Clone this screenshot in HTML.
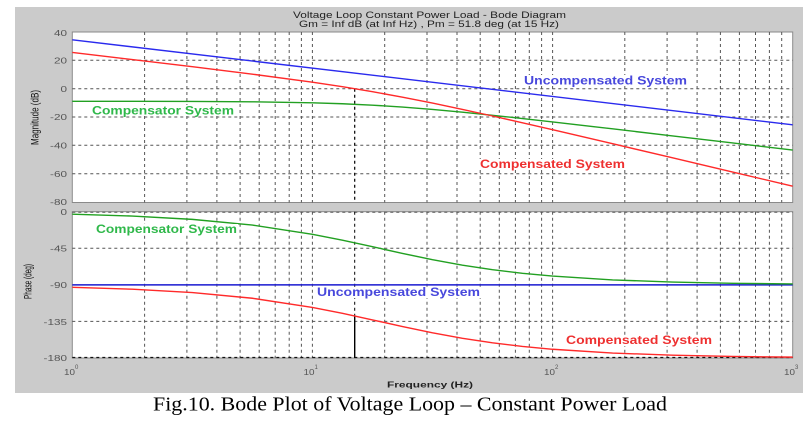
<!DOCTYPE html>
<html><head><meta charset="utf-8"><style>
html,body{margin:0;padding:0;background:#fff;}
svg{display:block;}
</style></head><body>
<svg width="803" height="422" viewBox="0 0 803 422" xmlns="http://www.w3.org/2000/svg" font-family="Liberation Sans, Arial, sans-serif">
<rect x="0" y="0" width="803" height="422" fill="#fff"/>
<rect x="15" y="7" width="788" height="386" fill="#cbcbcb"/>
<!-- axes backgrounds -->
<rect x="72.3" y="32" width="720.4" height="170.5" fill="#fff" stroke="#8a8a8a" stroke-width="1"/>
<rect x="72.3" y="211.7" width="720.4" height="146.3" fill="#fff" stroke="#8a8a8a" stroke-width="1"/>

<!-- vertical grid -->
<g stroke="#555" stroke-width="1" stroke-dasharray="3,3" fill="none">
<path d="M144.6 32V202.5M186.9 32V202.5M216.9 32V202.5M240.1 32V202.5M259.2 32V202.5M275.2 32V202.5M289.2 32V202.5M301.4 32V202.5M312.4 32V202.5M384.7 32V202.5M427 32V202.5M457 32V202.5M480.2 32V202.5M499.3 32V202.5M515.4 32V202.5M529.3 32V202.5M541.6 32V202.5M552.6 32V202.5M624.8 32V202.5M667.1 32V202.5M697.1 32V202.5M720.4 32V202.5M739.4 32V202.5M755.5 32V202.5M769.4 32V202.5M781.7 32V202.5"/>
<path d="M144.6 211.7V358M186.9 211.7V358M216.9 211.7V358M240.1 211.7V358M259.2 211.7V358M275.2 211.7V358M289.2 211.7V358M301.4 211.7V358M312.4 211.7V358M384.7 211.7V358M427 211.7V358M457 211.7V358M480.2 211.7V358M499.3 211.7V358M515.4 211.7V358M529.3 211.7V358M541.6 211.7V358M552.6 211.7V358M624.8 211.7V358M667.1 211.7V358M697.1 211.7V358M720.4 211.7V358M739.4 211.7V358M755.5 211.7V358M769.4 211.7V358M781.7 211.7V358"/>
<!-- horizontal grid -->
<path d="M72.3 60.3H792.7M72.3 88.7H792.7M72.3 117H792.7M72.3 145.3H792.7M72.3 173.7H792.7"/>
<path d="M72.3 212.2H792.7M72.3 248.3H792.7M72.3 321.4H792.7"/>
</g>
<path d="M72.3 357.5H792.7" stroke="#111" stroke-width="1.3" stroke-dasharray="3,3" fill="none"/>

<!-- 15 Hz markers -->
<path d="M354.7 88.7V202.5" stroke="#000" stroke-width="1.2" stroke-dasharray="3,3" fill="none"/>
<path d="M354.7 211.7V315.9" stroke="#000" stroke-width="1" stroke-dasharray="3,3" fill="none"/>
<path d="M354.7 315.9V358" stroke="#000" stroke-width="1.4" fill="none"/>

<!-- magnitude curves -->
<path d="M72.3 39.8L792.7 124.8" stroke="#2a2aee" stroke-width="1.4" fill="none"/>
<path d="M72.3 101.29L132.3 101.33L192.4 101.44L252.4 101.79L312.4 102.78L342.4 103.74L372.5 105.14L402.5 107.05L432.5 109.44L462.5 112.22L492.5 115.29L522.5 118.55L552.6 121.93L612.6 128.86L672.6 135.9L732.7 142.97L792.7 150.05" stroke="#22a022" stroke-width="1.4" fill="none"/>
<path d="M72.3 52.42L132.3 59.54L192.4 66.74L252.4 74.17L312.4 82.24L342.4 86.74L372.5 91.69L402.5 97.14L432.5 103.06L462.5 109.39L492.5 116L522.5 122.8L552.6 129.72L612.6 143.74L672.6 157.86L732.7 172.01L792.7 186.17" stroke="#ff2a2a" stroke-width="1.4" fill="none"/>

<!-- phase curves -->
<path d="M72.3 284.85H792.7" stroke="#1a1ad0" stroke-width="1.5" fill="none"/>
<path d="M72.3 214.15L132.3 216.05L192.4 219.38L252.4 225.1L312.4 234.26L342.4 240.21L372.5 246.73L402.5 253.4L432.5 259.65L462.5 265.13L492.5 269.68L522.5 273.29L552.6 276.11L612.6 279.9L672.6 282.06L732.7 283.28L792.7 283.97" stroke="#22a022" stroke-width="1.4" fill="none"/>
<path d="M72.3 287.3L132.3 289.2L192.4 292.53L252.4 298.25L312.4 307.41L342.4 313.36L372.5 319.88L402.5 326.55L432.5 332.8L462.5 338.28L492.5 342.83L522.5 346.44L552.6 349.26L612.6 353.05L672.6 355.21L732.7 356.43L792.7 357.12" stroke="#ff2a2a" stroke-width="1.4" fill="none"/>

<!-- series labels -->
<g font-weight="bold" font-size="11.5">
<rect x="523" y="75" width="165" height="11" fill="#fff"/>
<text x="524" y="84.3" fill="#4848dc" textLength="163" lengthAdjust="spacingAndGlyphs">Uncompensated System</text>
<rect x="91" y="105" width="144" height="11" fill="#fff"/>
<text x="92" y="114.5" fill="#2fb84a" textLength="142" lengthAdjust="spacingAndGlyphs">Compensator System</text>
<rect x="479" y="159" width="147" height="11" fill="#fff"/>
<text x="480" y="168" fill="#ee3030" textLength="145" lengthAdjust="spacingAndGlyphs">Compensated System</text>
<rect x="95" y="224" width="143" height="11" fill="#fff"/>
<text x="96" y="233" fill="#2fb84a" textLength="141" lengthAdjust="spacingAndGlyphs">Compensator System</text>
<rect x="316" y="287" width="165" height="11" fill="#fff"/>
<text x="317" y="296" fill="#4848dc" textLength="163" lengthAdjust="spacingAndGlyphs">Uncompensated System</text>
<rect x="565" y="335" width="148" height="11" fill="#fff"/>
<text x="566" y="344" fill="#ee3030" textLength="146" lengthAdjust="spacingAndGlyphs">Compensated System</text>
</g>

<!-- title -->
<g font-size="8.8" fill="#222">
<text x="293" y="18" textLength="273" lengthAdjust="spacingAndGlyphs">Voltage Loop Constant Power Load - Bode Diagram</text>
<text x="299" y="27" textLength="260" lengthAdjust="spacingAndGlyphs">Gm = Inf dB (at Inf Hz) ,  Pm = 51.8 deg (at 15 Hz)</text>
</g>

<!-- y tick labels -->
<g font-size="8.5" fill="#555" text-anchor="end">
<text transform="translate(67,36) scale(1.38,1)">40</text>
<text transform="translate(67,63.5) scale(1.38,1)">20</text>
<text transform="translate(67,92) scale(1.38,1)">0</text>
<text transform="translate(67,120) scale(1.38,1)">-20</text>
<text transform="translate(67,148.5) scale(1.38,1)">-40</text>
<text transform="translate(67,177) scale(1.38,1)">-60</text>
<text transform="translate(67,205) scale(1.38,1)">-80</text>
<text transform="translate(67,215) scale(1.38,1)">0</text>
<text transform="translate(67,251.5) scale(1.38,1)">-45</text>
<text transform="translate(67,288) scale(1.38,1)">-90</text>
<text transform="translate(67,325) scale(1.38,1)">-135</text>
<text transform="translate(67,361) scale(1.38,1)">-180</text>
</g>

<!-- x tick labels -->
<g font-size="8.5" fill="#555">
<text x="64" y="375" textLength="11" lengthAdjust="spacingAndGlyphs">10</text><text x="75" y="369" font-size="6">0</text>
<text x="303.5" y="375" textLength="11" lengthAdjust="spacingAndGlyphs">10</text><text x="314.5" y="369" font-size="6">1</text>
<text x="544" y="375" textLength="11" lengthAdjust="spacingAndGlyphs">10</text><text x="555" y="369" font-size="6">2</text>
<text x="784" y="375" textLength="11" lengthAdjust="spacingAndGlyphs">10</text><text x="795" y="369" font-size="6">3</text>
</g>

<!-- axis labels -->
<g font-size="8" fill="#111">
<text transform="translate(38.5,117.5) scale(1.38,1) rotate(-90)" text-anchor="middle" textLength="55" lengthAdjust="spacingAndGlyphs">Magnitude (dB)</text>
<text transform="translate(31.5,281.5) scale(1.38,1) rotate(-90)" text-anchor="middle" textLength="35" lengthAdjust="spacingAndGlyphs">Phase (deg)</text>
</g>
<text x="387" y="387.5" font-size="8.5" font-weight="600" textLength="86" lengthAdjust="spacingAndGlyphs" fill="#222">Frequency  (Hz)</text>

<!-- caption -->
<text x="153" y="410.5" font-family="Liberation Serif, Times New Roman, serif" font-size="20" fill="#000" textLength="514" lengthAdjust="spacingAndGlyphs">Fig.10. Bode Plot of Voltage Loop – Constant Power Load</text>
</svg>
</body></html>
